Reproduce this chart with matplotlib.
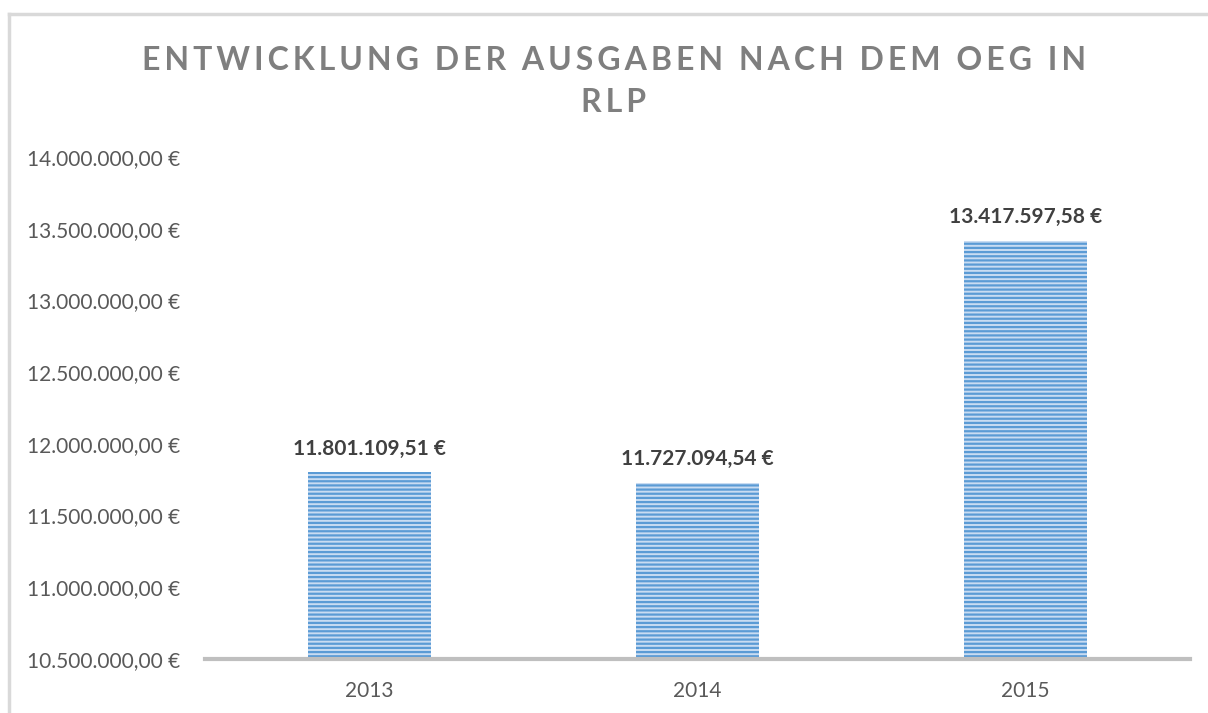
import matplotlib.pyplot as plt
from matplotlib.lines import Line2D
from matplotlib.ticker import FuncFormatter

years = ["2013", "2014", "2015"]
ausgaben = [11801109.51, 11727094.54, 13417597.58]
y_ticks = [10500000, 11000000, 11500000, 12000000, 12500000, 13000000, 13500000, 14000000]

title_lines = ["ENTWICKLUNG DER AUSGABEN NACH DEM OEG IN", "RLP"]


def de_euro(v):
    # german number format: 1.234.567,89 €
    s = f"{v:,.2f}"
    s = s.replace(",", "X").replace(".", ",").replace("X", ".")
    return s + " €"


plt.rcParams["font.family"] = ["Lato", "DejaVu Sans"]
plt.rcParams["hatch.linewidth"] = 1.6

fig = plt.figure(figsize=(12.08, 7.13), dpi=100)
ax = fig.add_axes([0.1697, 0.0757, 0.8153, 0.7041])

# chart frame: only top and left edges are inside the picture
W, H = 1208, 713
fig.lines.append(Line2D([9 / W, 9 / W], [0, 1 - 14 / H], transform=fig.transFigure,
                        color="#d9d9d9", linewidth=2.5))
fig.lines.append(Line2D([9 / W, 1], [1 - 14 / H, 1 - 14 / H], transform=fig.transFigure,
                        color="#d9d9d9", linewidth=2.5))

x = range(len(years))
bars = ax.bar(x, ausgaben, width=0.375, color="#c9dcf2", edgecolor="#5b9bd5",
              hatch="----", linewidth=0, zorder=2)

for b, v in zip(bars, ausgaben):
    ax.annotate(de_euro(v), (b.get_x() + b.get_width() / 2, v),
                xytext=(0, 10), textcoords="offset points", ha="center", va="bottom",
                fontsize=15, fontweight="bold", color="#404040")

ax.set_xlim(-0.5, 2.5)
ax.set_ylim(10500000, 14000000)
ax.set_yticks(y_ticks)
ax.yaxis.set_major_formatter(FuncFormatter(lambda v, p: de_euro(v)))
ax.set_xticks(list(x))
ax.set_xticklabels(years)

for s in ["top", "right", "left"]:
    ax.spines[s].set_visible(False)
ax.spines["bottom"].set_color("#bfbfbf")
ax.spines["bottom"].set_linewidth(3)
ax.tick_params(axis="both", length=0, labelsize=15, colors="#595959")
ax.tick_params(axis="y", pad=18)
ax.tick_params(axis="x", pad=16)

for i, line in enumerate(title_lines):
    spaced = "\u200a\u200a".join(line)
    fig.text(0.508, 1 - (60 + 43 * i) / H, spaced, ha="center", va="center",
             fontsize=23, fontweight="bold", color="#7f7f7f")

fig.savefig("out.png", dpi=100)
